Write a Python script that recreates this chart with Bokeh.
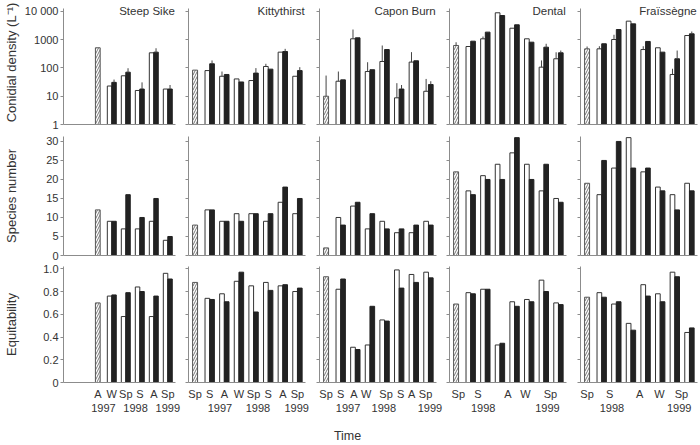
from bokeh.plotting import figure
from bokeh.models import FixedTicker, LinearAxis, Range1d, Label
from bokeh.layouts import gridplot
from bokeh.embed import file_html
from bokeh.resources import INLINE

# ---------------- data ----------------
SITES = ["Steep Sike", "Kittythirst", "Capon Burn", "Dental", "Fraïssègne"]
REF_SLOT = [2, 0, 0, 0, 0]
PAIR_SLOTS = [
    [3, 4, 5, 6, 7],
    [1, 2, 3, 4, 5, 6, 7],
    [1, 2, 3, 4, 5, 6, 7],
    [1, 2, 3, 4, 5, 6, 7],
    [1, 2, 3, 4, 5, 6, 7],
]

# Conidial density (L-1), log scale
DENS_REF = [520, 84, 10, 627, 477]
DENS_REF_ERR = [None, None, 54, 815, 576]
DENS_OPEN = [
    [23, 53, 16, 345, 18],
    [81, 51, 41, 36, 113, 364, 51],
    [34, 1080, 75, 170, 8.8, 162, 15],
    [576, 1080, 9000, 2560, 1080, 107, 212],
    [477, 1020, 4550, 450, 520, 59, 1410],
]
DENS_OPEN_ERR = [
    [None, None, None, None, None],
    [None, 75, None, None, 141, None, None],
    [75, 2300, 160, 625, 29, 364, 41],
    [None, 1300, None, None, None, 185, 360],
    [590, 1500, None, 590, None, 94, None],
]
DENS_FILLED = [
    [31, 71, 18, 364, 18],
    [141, 59, 32, 66, 91, 384, 81],
    [38, 1170, 87, 450, 18, 180, 26],
    [890, 1860, 7200, 3380, 820, 545, 345],
    [720, 2300, 3650, 870, 364, 212, 1620],
]
DENS_FILLED_ERR = [
    [39, 98, 31, 500, 25],
    [185, None, None, 99, None, 477, 107],
    [None, None, None, None, 25, None, 34],
    [None, None, None, None, None, 720, 415],
    [None, None, None, None, None, 415, 1960],
]

# Species number
SPEC_REF = [12, 8, 2, 22, 19]
SPEC_OPEN = [
    [9, 7, 7, 9, 4],
    [12, 9, 11, 11, 9, 14, 11],
    [10, 13, 7, 9, 6, 6, 9],
    [17, 21, 24, 27, 24, 17, 15],
    [16, 23, 31, 22, 18, 16, 19],
]
SPEC_FILLED = [
    [9, 16, 10, 15, 5],
    [12, 9, 9, 11, 11, 18, 15],
    [8, 14, 11, 7, 7, 8, 8],
    [16, 20, 20, 31, 20, 24, 14],
    [25, 30, 23, 23, 17, 12, 17],
]

# Equitability
EQ_REF = [0.70, 0.88, 0.93, 0.69, 0.75]
EQ_OPEN = [
    [0.76, 0.58, 0.84, 0.58, 0.96],
    [0.74, 0.78, 0.89, 0.85, 0.88, 0.85, 0.80],
    [0.82, 0.31, 0.33, 0.55, 0.99, 0.95, 0.97],
    [0.79, 0.82, 0.33, 0.71, 0.73, 0.90, 0.70],
    [0.79, 0.69, 0.52, 0.86, 0.78, 0.97, 0.44],
]
EQ_FILLED = [
    [0.77, 0.79, 0.80, 0.76, 0.91],
    [0.73, 0.71, 0.97, 0.62, 0.81, 0.86, 0.83],
    [0.91, 0.29, 0.67, 0.54, 0.83, 0.88, 0.92],
    [0.78, 0.82, 0.345, 0.67, 0.71, 0.80, 0.685],
    [0.75, 0.71, 0.46, 0.76, 0.71, 0.93, 0.48],
]

# x tick labels
SEASON_POS = [
    [2, 3, 4, 5, 6, 7],
    [0, 1, 2, 3, 4, 5, 6, 7],
    [0, 1.0, 1.9, 2.75, 4.1, 5.1, 5.85, 6.8],
    [0.15, 1.5, 3.55, 4.75, 6.45],
    [0.0, 1.55, 3.6, 4.95, 6.45],
]
SEASON_TXT = [
    ["A", "W", "Sp", "S", "A", "Sp"],
    ["Sp", "S", "A", "W", "Sp", "S", "A", "Sp"],
    ["Sp", "S", "A", "W", "Sp", "S", "A", "Sp"],
    ["Sp", "S", "A", "W", "Sp"],
    ["Sp", "S", "A", "W", "Sp"],
]
YEAR_POS = [
    [2.4, 4.7, 7.0],
    [1.7, 4.3, 6.95],
    [1.5, 3.95, 7.1],
    [1.85, 6.25],
    [1.7, 6.3],
]
YEAR_TXT = [
    ["1997", "1998", "1999"],
    ["1997", "1998", "1999"],
    ["1997", "1998", "1999"],
    ["1998", "1999"],
    ["1998", "1999"],
]

ROW_TITLES = ["Conidial density (L⁻¹)", "Species number", "Equitability"]
DENS_TICKS = [1, 10, 100, 1000, 10000]
DENS_TICK_TXT = ["1", "10", "100", "1000", "10 000"]
SPEC_TICKS = [0, 5, 10, 15, 20, 25, 30]
SPEC_TICK_TXT = ["0", "5", "10", "15", "20", "25", "30"]
EQ_TICKS = [0, 0.2, 0.4, 0.6, 0.8, 1.0]
EQ_TICK_TXT = ["0", "0.2", "0.4", "0.6", "0.8", "1.0"]
X_AXIS_TITLE = "Time"
X_AXIS_TITLE_POS = 1.47   # in Capon Burn panel coordinates

# ---------------- style / layout ----------------
FONT = "Liberation Sans"
TXT = "#333333"
AXC = "#8c8c8c"
BLACK = "#222222"

COL_W = [183, 131, 130, 131, 125]
COL_LB = [58, 5, 5, 5, 5]
COL_RB = [8, 9, 8, 9, 3]
ROW_H = [130, 131, 184]
ROW_TB = [0, 6, 5]
ROW_BB = [6, 6, 62]
TITLE_STANDOFF = [3, 24, 21]

BAR_W = 0.32
OFF = 0.16


def make_panel(r, c):
    if r == 0:
        yr = Range1d(1, 24500)
        bounds = (1, 12800)
        ytype = "log"
        base = 1
        ref, op, fi = DENS_REF[c], DENS_OPEN[c], DENS_FILLED[c]
        ticks, ticktxt = DENS_TICKS, DENS_TICK_TXT
    elif r == 1:
        yr = Range1d(0, 31.3)
        bounds = "auto"
        ytype = "linear"
        base = 0
        ref, op, fi = SPEC_REF[c], SPEC_OPEN[c], SPEC_FILLED[c]
        ticks, ticktxt = SPEC_TICKS, SPEC_TICK_TXT
    else:
        yr = Range1d(0, 1.02)
        bounds = "auto"
        ytype = "linear"
        base = 0
        ref, op, fi = EQ_REF[c], EQ_OPEN[c], EQ_FILLED[c]
        ticks, ticktxt = EQ_TICKS, EQ_TICK_TXT

    p = figure(width=COL_W[c], height=ROW_H[r], x_range=Range1d(-0.45, 7.55),
               y_range=yr, y_axis_type=ytype, output_backend="svg",
               toolbar_location=None, min_border_left=COL_LB[c],
               min_border_right=COL_RB[c], min_border_top=ROW_TB[r],
               min_border_bottom=ROW_BB[r])
    p.outline_line_color = None
    p.background_fill_color = "white"
    p.border_fill_color = "white"
    p.xgrid.visible = False
    p.ygrid.visible = False

    # y axis
    ya = p.yaxis[0]
    ya.bounds = bounds
    ya.ticker = FixedTicker(ticks=ticks, minor_ticks=[])
    ya.axis_line_color = AXC
    ya.major_tick_line_color = AXC
    ya.major_tick_out = 3
    ya.major_tick_in = 0
    ya.minor_tick_line_color = None
    ya.major_label_text_font = FONT
    ya.major_label_text_color = TXT
    if c == 0:
        ya.major_label_overrides = {t: s for t, s in zip(ticks, ticktxt)}
        ya.major_label_text_font_size = "11px"
        ya.major_label_standoff = 2
        ya.axis_label = ROW_TITLES[r]
        ya.axis_label_text_font = FONT
        ya.axis_label_text_font_size = "13px"
        ya.axis_label_text_font_style = "normal"
        ya.axis_label_text_color = TXT
        ya.axis_label_standoff = TITLE_STANDOFF[r]
    else:
        ya.major_label_overrides = {t: " " for t in ticks}
        ya.major_label_text_font_size = "1px"
        ya.major_label_text_alpha = 0
        ya.major_label_standoff = 0

    # x axis
    xa = p.xaxis[0]
    xa.axis_line_color = AXC
    xa.major_tick_line_color = None
    xa.minor_tick_line_color = None
    xa.major_tick_out = 0
    xa.major_tick_in = 0
    xa.major_label_text_font = FONT
    xa.major_label_text_color = TXT
    if r < 2:
        xa.ticker = FixedTicker(ticks=[], minor_ticks=[])
        xa.major_label_text_font_size = "1px"
        xa.major_label_text_alpha = 0
        xa.major_label_standoff = 0
    else:
        sp = SEASON_POS[c]
        xa.ticker = FixedTicker(ticks=sp, minor_ticks=[])
        xa.major_label_overrides = {t: s for t, s in zip(sp, SEASON_TXT[c])}
        xa.major_label_text_font_size = "11px"
        xa.major_label_standoff = 5
        yp = YEAR_POS[c]
        yax = LinearAxis(ticker=FixedTicker(ticks=yp, minor_ticks=[]),
                         major_label_overrides={t: s for t, s in zip(yp, YEAR_TXT[c])},
                         axis_line_color=None, major_tick_line_color=None,
                         minor_tick_line_color=None, major_tick_out=0,
                         major_tick_in=0, major_label_standoff=1,
                         major_label_text_font=FONT,
                         major_label_text_font_size="11px",
                         major_label_text_color=TXT)
        p.add_layout(yax, "below")
        if c == 2:
            tax = LinearAxis(ticker=FixedTicker(ticks=[X_AXIS_TITLE_POS], minor_ticks=[]),
                             major_label_overrides={X_AXIS_TITLE_POS: X_AXIS_TITLE},
                             axis_line_color=None, major_tick_line_color=None,
                             minor_tick_line_color=None, major_tick_out=0,
                             major_tick_in=0, major_label_standoff=14,
                             major_label_text_font=FONT,
                             major_label_text_font_size="12.5px",
                             major_label_text_color=TXT)
            p.add_layout(tax, "below")

    # bars
    slots = PAIR_SLOTS[c]
    p.vbar(x=[REF_SLOT[c]], top=[ref], bottom=base, width=0.34,
           fill_color="white", line_color="#555555", line_width=1,
           hatch_pattern="/", hatch_color="#7a7a7a", hatch_scale=5,
           hatch_weight=1)
    xo = [s - OFF for s in slots]
    xf = [s + OFF for s in slots]
    p.vbar(x=xo, top=op, bottom=base, width=BAR_W, fill_color="white",
           line_color="#333333", line_width=1)
    p.vbar(x=xf, top=fi, bottom=base, width=BAR_W, fill_color=BLACK,
           line_color=BLACK, line_width=1)

    # error bars (density only)
    if r == 0:
        ex, e0, e1 = [], [], []
        if DENS_REF_ERR[c] is not None:
            ex.append(REF_SLOT[c]); e0.append(ref); e1.append(DENS_REF_ERR[c])
        for x, v, e in zip(xo, op, DENS_OPEN_ERR[c]):
            if e is not None:
                ex.append(x); e0.append(v); e1.append(e)
        for x, v, e in zip(xf, fi, DENS_FILLED_ERR[c]):
            if e is not None:
                ex.append(x); e0.append(v); e1.append(e)
        if ex:
            p.segment(x0=ex, y0=e0, x1=ex, y1=e1, line_color="#444444",
                      line_width=1)
        p.add_layout(Label(x=7.5, y=10000, text=SITES[c], text_align="right",
                           text_baseline="middle", text_font=FONT,
                           text_font_size="11.5px", text_color=TXT))
    return p


rows = [[make_panel(r, c) for c in range(5)] for r in range(3)]
grid = gridplot(rows, toolbar_location=None)

open("out.html", "w").write(file_html(grid, INLINE))
